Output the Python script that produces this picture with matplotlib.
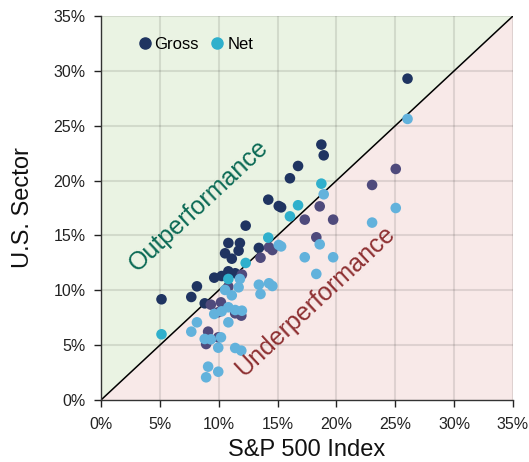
import numpy as np
import matplotlib
matplotlib.use("Agg")
import matplotlib.pyplot as plt
from matplotlib.lines import Line2D

plt.rcParams['font.family'] = ['Liberation Sans', 'DejaVu Sans']

# S&P 500 Index (x) and U.S. Sector (y), in percent
gross_x = [26.04, 18.72, 18.92, 16.74, 16.05, 14.21, 15.10, 15.30, 12.29, 10.82,
           11.80, 10.54, 11.69, 13.41, 11.11, 9.62, 10.25, 10.82, 11.40, 11.97,
           8.15, 7.67, 5.14, 8.81, 25.04, 23.03, 18.58, 17.31, 19.72, 18.29,
           14.27, 14.56, 13.55, 10.82, 9.33, 10.19, 11.40, 11.92, 9.10, 8.93,
           9.96, 9.96]
gross_y = [29.29, 23.28, 22.30, 21.33, 20.21, 18.26, 17.68, 17.56, 15.89, 14.31,
           14.31, 13.37, 13.61, 13.86, 12.88, 11.15, 11.30, 11.73, 11.55, 11.43,
           10.36, 9.39, 9.18, 8.81, 21.06, 19.60, 17.65, 16.44, 16.44, 14.83,
           13.92, 13.67, 12.97, 10.33, 8.69, 8.90, 7.90, 7.69, 6.23, 5.10,
           5.71, 8.00]
net_x = [26.04, 18.72, 18.92, 16.74, 16.05, 14.21, 15.10, 15.30, 12.29, 10.82,
         11.80, 10.54, 11.69, 13.41, 11.11, 9.62, 10.25, 10.82, 11.40, 11.97,
         8.15, 7.67, 5.14, 8.81, 25.04, 23.03, 18.58, 17.31, 19.72, 18.29,
         14.27, 14.56, 13.55, 10.82, 9.33, 10.19, 11.40, 11.92, 9.10, 8.93,
         9.96, 9.96]
net_y = [25.62, 19.72, 18.75, 17.75, 16.74, 14.80, 14.13, 14.00, 12.49, 11.03,
         11.03, 10.03, 10.27, 10.51, 9.54, 7.84, 8.08, 8.45, 8.20, 8.14,
         7.08, 6.23, 5.99, 5.56, 17.50, 16.17, 14.19, 13.01, 13.01, 11.49,
         10.64, 10.39, 9.66, 7.08, 5.53, 5.71, 4.74, 4.50, 3.04, 2.07,
         2.58, 4.77]
ticks = [0, 5, 10, 15, 20, 25, 30, 35]
tick_labels = ['0%', '5%', '10%', '15%', '20%', '25%', '30%', '35%']

GROSS_UP, GROSS_DN = '#1f3461', '#4f4a7c'
NET_UP, NET_DN = '#2fb0cc', '#62b2dc'

fig = plt.figure(figsize=(5.29, 4.62), dpi=100)
ax = fig.add_axes([101/529, 1-400/462, 412/529, 384/462])
ax.set_xlim(0, 35)
ax.set_ylim(0, 35)

# region backgrounds
ax.fill([0, 0, 35], [0, 35, 35], color='#eaf3e3', zorder=0, lw=0)
ax.fill([0, 35, 35], [0, 0, 35], color='#f8e9e8', zorder=0, lw=0)
for t in ticks[1:]:
    ax.axvline(t, color='black', alpha=0.1, lw=1.5, zorder=1)
    ax.axhline(t, color='black', alpha=0.1, lw=1.5, zorder=1)
ax.plot([0, 35], [0, 35], color='black', lw=1.1, zorder=2)

gx, gy = np.array(gross_x), np.array(gross_y)
nx, ny = np.array(net_x), np.array(net_y)
gc = [GROSS_UP if y >= x else GROSS_DN for x, y in zip(gx, gy)]
nc = [NET_UP if y >= x else NET_DN for x, y in zip(nx, ny)]
ax.scatter(gx, gy, s=58, c=gc, lw=0, zorder=3)
ax.scatter(nx, ny, s=58, c=nc, lw=0, zorder=4)

ax.text(8.3, 17.7, 'Outperformance', rotation=43, rotation_mode='anchor',
        ha='center', va='center', fontsize=18, color='#0b6a55', zorder=5)
ax.text(18.2, 9.0, 'Underperformance', rotation=43, rotation_mode='anchor',
        ha='center', va='center', fontsize=18, color='#8e3032', zorder=5)

handles = [Line2D([], [], marker='o', ls='', color=GROSS_UP, markersize=8, label='Gross'),
           Line2D([], [], marker='o', ls='', color=NET_UP, markersize=8, label='Net')]
ax.legend(handles=handles, loc='upper left', bbox_to_anchor=(0.045, 0.985), ncol=2,
          frameon=False, fontsize=12, handletextpad=0.0, columnspacing=0.5,
          handlelength=1.2)

ax.set_xticks(ticks)
ax.set_xticklabels(tick_labels)
ax.set_yticks(ticks)
ax.set_yticklabels(tick_labels)
ax.tick_params(labelsize=11.5, colors='#222222', length=5, width=1, direction='out')
ax.tick_params(axis='x', pad=7)
ax.tick_params(axis='y', pad=6)
for s in ['top', 'right']:
    ax.spines[s].set_visible(False)
for s in ['left', 'bottom']:
    ax.spines[s].set_color('#333333')
    ax.spines[s].set_linewidth(1)
ax.set_xlabel('S&P 500 Index', fontsize=17, color='#111111', labelpad=5)
ax.set_ylabel('U.S. Sector', fontsize=17, color='#111111', labelpad=14)

fig.savefig('out.png', dpi=100)
